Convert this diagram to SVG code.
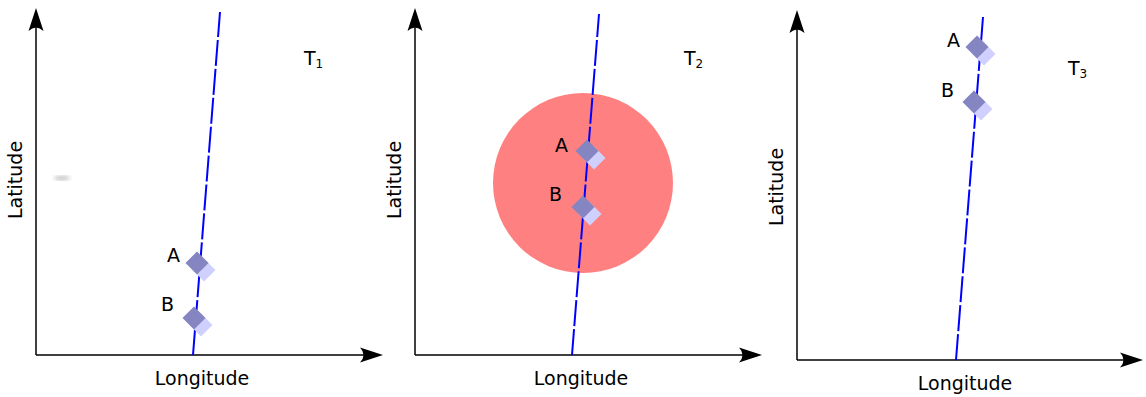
<svg xmlns="http://www.w3.org/2000/svg" width="1146" height="397" viewBox="0 0 1146 397">
<style>
.ax{stroke:#000;stroke-width:1.5;fill:none}
.tr{stroke:#0000ff;stroke-width:2;fill:none;stroke-dasharray:26,3}
.lb{font-family:"DejaVu Sans",sans-serif;font-size:19px;fill:#000}
.dk{fill:#8585c2}
.lt{fill:#d0d0ff}
</style>
<defs>
<marker id="ar" viewBox="-3 -8 24 16" markerWidth="24" markerHeight="16" refX="16" refY="0" orient="auto" markerUnits="userSpaceOnUse">
<path d="M20,0 L-3,-7.5 Q4,0 -3,7.5 Z" fill="#000"/>
</marker>
<g id="dm">
<path class="lt" d="M7,-4.5 L18.5,7 L7,18.5 L-4.5,7 Z"/>
<path class="dk" d="M0,-11.5 L11.5,0 L0,11.5 L-11.5,0 Z"/>
</g>
<filter id="bl"><feGaussianBlur stdDeviation="2"/></filter>
</defs>
<ellipse cx="62" cy="178" rx="8" ry="2" fill="#bbb" filter="url(#bl)"/>
<circle id="zone" cx="583" cy="183" r="90" fill="#ff8080"/>
<g id="axes">
<path class="ax" d="M36,355 L36,12" marker-end="url(#ar)"/>
<path class="ax" d="M36,355 L379,355" marker-end="url(#ar)"/>
<path class="ax" d="M415,355 L415,12" marker-end="url(#ar)"/>
<path class="ax" d="M415,355 L758,355" marker-end="url(#ar)"/>
<path class="ax" d="M797,360 L797,14" marker-end="url(#ar)"/>
<path class="ax" d="M797,360 L1139,360" marker-end="url(#ar)"/>
</g>
<g id="connectors">
<path class="tr" d="M193,355 L220,12"/>
<path class="tr" d="M572,355 L599,14"/>
<path class="tr" d="M956,360 L983,17"/>
</g>
<g id="p1">
<use href="#dm" x="197" y="263"/>
<use href="#dm" x="194" y="318"/>
<text class="lb" x="167" y="262">A</text>
<text class="lb" x="161" y="311">B</text>
<text class="lb" x="304" y="65">T<tspan font-size="12" dy="3">1</tspan></text>
<text class="lb" transform="translate(22,180) rotate(-90)" text-anchor="middle">Latitude</text>
<text class="lb" x="202" y="385" text-anchor="middle">Longitude</text>
</g>
<g id="p2">
<use href="#dm" x="587" y="151"/>
<use href="#dm" x="583" y="207"/>
<text class="lb" x="555" y="152">A</text>
<text class="lb" x="549" y="201">B</text>
<text class="lb" x="684" y="65">T<tspan font-size="12" dy="3">2</tspan></text>
<text class="lb" transform="translate(401,180) rotate(-90)" text-anchor="middle">Latitude</text>
<text class="lb" x="581" y="385" text-anchor="middle">Longitude</text>
</g>
<g id="p3">
<use href="#dm" x="977" y="47"/>
<use href="#dm" x="974" y="102"/>
<text class="lb" x="947" y="47">A</text>
<text class="lb" x="941" y="97">B</text>
<text class="lb" x="1068" y="75">T<tspan font-size="12" dy="3">3</tspan></text>
<text class="lb" transform="translate(783,187) rotate(-90)" text-anchor="middle">Latitude</text>
<text class="lb" x="965" y="390" text-anchor="middle">Longitude</text>
</g>
</svg>
